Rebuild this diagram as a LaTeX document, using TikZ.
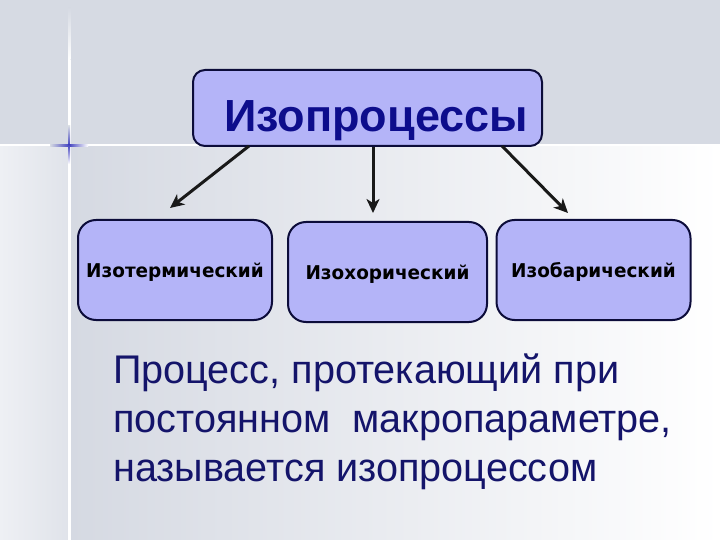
\documentclass[tikz,border=0pt]{standalone}
\usepackage{fontspec}
\setmainfont{Liberation Sans}
\newfontfamily\narrowfont[FakeStretch=0.99]{Liberation Sans}
\newfontfamily\boxfont[FakeStretch=0.97]{DejaVu Sans}
\usetikzlibrary{arrows.meta,calc}
\definecolor{bgtop}{HTML}{D6DAE3}
\definecolor{bgleft}{HTML}{D5D9E2}
\definecolor{stripl}{HTML}{EEF0F4}
\definecolor{stripr}{HTML}{E0E3EA}
\definecolor{boxfill}{HTML}{B4B4F8}
\definecolor{boxline}{HTML}{0C0C3A}
\definecolor{titleblue}{HTML}{0D0D8C}
\definecolor{textnavy}{HTML}{14146A}
\definecolor{spark}{HTML}{4545C0}
\tikzset{
  procbox/.style={draw=boxline, line width=2pt, fill=boxfill, rounded corners=18pt,
    minimum width=194pt, minimum height=100pt, inner sep=0pt,
    text height=14pt, text depth=0pt,
    font=\boxfont\bfseries\fontsize{19}{21}\selectfont, text=black},
  topbox/.style={draw=boxline, line width=2pt, fill=boxfill, rounded corners=12pt,
    minimum width=349pt, minimum height=76pt, inner sep=0pt},
  arr/.style={draw=black!90, line width=3pt, -{Stealth[length=14pt,width=13pt,inset=4pt]}},
}
\begin{document}
\begin{tikzpicture}[x=1pt,y=-1pt]
\useasboundingbox (0,0) rectangle (720,540);
% background
\fill[bgtop] (0,0) rectangle (720,146);
\shade[left color=stripl, right color=stripr] (0,146) rectangle (69,540);
\shade[left color=bgleft, right color=white] (69,146) rectangle (720,540);
\fill[white] (0,144) rectangle (720,146.5);
\fill[white] (68,60) rectangle (70.5,540);
\shade[top color=bgtop, bottom color=white] (68,8) rectangle (70.5,60);
% sparkle
\shade[left color=bgtop, right color=spark] (50,144.2) rectangle (69,146.2);
\shade[left color=spark, right color=white] (69,144.2) rectangle (88,146.2);
\shade[top color=bgtop, bottom color=spark] (68.2,126) rectangle (70.2,145);
\shade[top color=spark, bottom color=white] (68.2,145) rectangle (70.2,164);

% nodes
\node[topbox] (top) at (367.5,108) {};
\node[font=\bfseries\fontsize{45}{50}\selectfont, text=titleblue, anchor=base] (title) at (376,132) {Изопроцессы};

\node[procbox] (b1) at (175,270) {Изотермический};
\node[procbox, minimum width=199pt] (b2) at (387.5,272) {Изохорический};
\node[procbox] (b3) at (593.5,270) {Изобарический};

\node[anchor=base west, align=left, text=textnavy, inner sep=0pt,
  font=\narrowfont\fontsize{40}{49}\selectfont] (def) at (113,481)
  {Процесс, протекающий при\\постоянном\ \ макропараметре,\\называется изопроцессом};

% connectors
\coordinate (s1) at (249,146);
\coordinate (s2) at (373,147);
\coordinate (s3) at (502,146);
\coordinate (e1) at (170,208);
\coordinate (e2) at (373,213);
\coordinate (e3) at (568,213);
\draw[arr] (s1) -- (e1);
\draw[arr] (s2) -- (e2);
\draw[arr] (s3) -- (e3);
\end{tikzpicture}
\end{document}
